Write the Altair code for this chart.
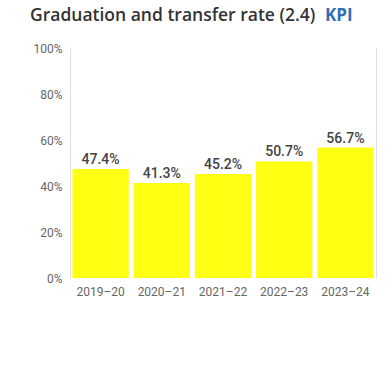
import altair as alt
import pandas as pd

# Graduation and transfer rate by academic year
years = ["2019–20", "2020–21", "2021–22", "2022–23", "2023–24"]
rates = [47.4, 41.3, 45.2, 50.7, 56.7]

df = pd.DataFrame({"year": years, "rate": rates})
df["label"] = [f"{r:.1f}%" for r in rates]

FONT = "Roboto"
TITLE_FONT = "Open Sans"
y_scale = alt.Scale(domain=[0, 100])

base = alt.Chart(df)

bars = base.mark_bar(color="#FFFF14").encode(
    x=alt.X("year:N", sort=years, title=None,
            scale=alt.Scale(paddingInner=0.08, paddingOuter=0.04),
            axis=alt.Axis(labelAngle=0, labelColor="#666", labelFont=FONT,
                          labelFontSize=12, domain=False, ticks=False, labelPadding=8)),
    y=alt.Y("rate:Q", scale=y_scale, title=None,
            axis=alt.Axis(values=[0, 20, 40, 60, 80, 100],
                          labelExpr="datum.value + '%'", labelColor="#666",
                          labelFont=FONT, labelFontSize=12, labelPadding=8,
                          ticks=False, grid=False, domainColor="#dddddd")),
)

labels = base.mark_text(baseline="bottom", dy=-2, font=FONT, fontSize=14,
                        fontWeight=500, color="#444").encode(
    x=alt.X("year:N", sort=years),
    y=alt.Y("rate:Q", scale=y_scale,
            axis=alt.Axis(orient="right", labels=False, ticks=False, grid=False,
                          domainColor="#dddddd", title=None)),
    text="label:N",
)

# Heading: main title in dark grey followed by a blue "KPI" tag
heading = pd.DataFrame({
    "text": ["Graduation and transfer rate (2.4)", "KPI"],
    "kind": ["title", "tag"],
})
title_txt = alt.Chart(heading).transform_filter(alt.datum.kind == "title").mark_text(
    align="left", baseline="alphabetic", font=TITLE_FONT, fontSize=17.5,
    fontWeight=600, color="#333"
).encode(x=alt.value(-40), y=alt.value(-27), text="text:N")

kpi_txt = alt.Chart(heading).transform_filter(alt.datum.kind == "tag").mark_text(
    align="left", baseline="alphabetic", font=TITLE_FONT, fontSize=17,
    fontWeight="bold", color="#2f6fb5"
).encode(x=alt.value(255), y=alt.value(-27), text="text:N")

chart = alt.layer(bars, labels, title_txt, kpi_txt).resolve_scale(y="independent").properties(
    width=306,
    height=230,
    autosize="none",
    padding={"left": 70, "top": 48, "right": 9, "bottom": 91},
).configure_view(stroke=None)

chart.save("out.html", embed_options={"renderer": "svg", "actions": False})
